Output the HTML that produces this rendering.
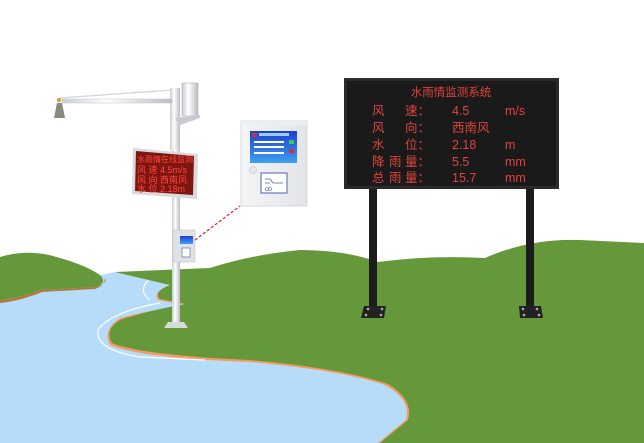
<!DOCTYPE html>
<html><head><meta charset="utf-8"><style>
html,body{margin:0;padding:0;background:#fff;}
svg{display:block;}
text{font-family:"Liberation Sans","Noto Sans CJK SC",sans-serif;}
</style></head><body>
<svg width="644" height="443" viewBox="0 0 644 443" xmlns="http://www.w3.org/2000/svg">
<defs>
<linearGradient id="pole" x1="0" x2="1"><stop offset="0" stop-color="#c8cbd0"/><stop offset="0.4" stop-color="#ffffff"/><stop offset="1" stop-color="#b8bcc2"/></linearGradient>
<linearGradient id="scr" x1="0" x2="0" y1="0" y2="1"><stop offset="0" stop-color="#1b3fd0"/><stop offset="1" stop-color="#3fa0f0"/></linearGradient>
<linearGradient id="cab" x1="0" x2="1"><stop offset="0" stop-color="#f4f5f7"/><stop offset="1" stop-color="#e2e4e8"/></linearGradient>
</defs>
<!-- river -->
<path d="M0,295 L115,272 L175,284 L250,300 L330,330 L400,380 L420,443 L0,443 Z" fill="#b6dcfa"/>
<!-- left hill -->
<path d="M0,257 Q30,248 60,258 Q85,265 100,275 Q108,283 95,287 L40,290 Q20,298 0,300 Z" fill="#65983a"/>
<path d="M0,300 Q20,298 40,290 L95,287 Q108,283 105,278 Q104,286 95,289 L42,292 Q20,301 0,303 Z" fill="#b07a3a"/>
<!-- main green orange rim -->
<path d="M115,272 L170,285 Q152,292 158,300 L186,305 Q150,310 120,318 Q102,330 110,345 Q140,358 250,362 Q340,370 385,385 Q412,400 406,420 L378,443 L382,443 L410,420 Q415,398 388,382 Q340,366 250,358 Q140,353 112,342 Q106,330 122,321 Q152,312 190,303 L160,297 Q156,292 172,285 Z" fill="#f79a5f"/>
<!-- main green -->
<path d="M115,272 L210,268 Q250,255 300,250 Q345,250 378,262 Q430,255 485,258 Q530,238 580,240 L644,243 L644,443 L380,443 L408,420 Q414,400 388,384 Q340,368 250,360 Q140,355 112,343 Q104,330 120,320 Q150,310 186,304 L160,299 Q153,292 170,285 Z" fill="#65983a"/>
<!-- white river lines -->
<path d="M150,300 Q138,292 148,280 M160,303 Q110,312 98,330 Q95,350 140,357 L205,360" fill="none" stroke="#fff" stroke-width="1.2"/>

<!-- big sign legs -->
<rect x="369" y="186" width="8" height="122" fill="#1c1c1c"/>
<rect x="526" y="186" width="8" height="122" fill="#1c1c1c"/>
<polygon points="364,306 386,306 384,318 361,318" fill="#222"/>
<polygon points="519,306 541,306 543,318 520,318" fill="#222"/>
<circle cx="368" cy="309" r="1.3" fill="#aaa"/><circle cx="382" cy="309" r="1.3" fill="#aaa"/><circle cx="366" cy="315" r="1.3" fill="#aaa"/><circle cx="381" cy="315" r="1.3" fill="#aaa"/>
<circle cx="523" cy="309" r="1.3" fill="#aaa"/><circle cx="537" cy="309" r="1.3" fill="#aaa"/><circle cx="524" cy="315" r="1.3" fill="#aaa"/><circle cx="539" cy="315" r="1.3" fill="#aaa"/>
<!-- big sign -->
<rect x="344" y="78" width="215" height="111" fill="#2a2a2a"/>
<rect x="347" y="81" width="209" height="105" fill="#1a1a1a"/>
<g fill="#e0443c" font-size="12.5">
<text x="451" y="96" text-anchor="middle" font-size="11.5">水雨情监测系统</text>
<text x="372" y="115">风</text><text x="405" y="115">速：</text><text x="452" y="115">4.5</text><text x="505" y="115">m/s</text>
<text x="372" y="132">风</text><text x="405" y="132">向：</text><text x="452" y="132">西南风</text>
<text x="372" y="149">水</text><text x="405" y="149">位：</text><text x="452" y="149">2.18</text><text x="505" y="149">m</text>
<text x="372" y="166">降</text><text x="389" y="166">雨</text><text x="405" y="166">量：</text><text x="452" y="166">5.5</text><text x="505" y="166">mm</text>
<text x="372" y="182">总</text><text x="389" y="182">雨</text><text x="405" y="182">量：</text><text x="452" y="182">15.7</text><text x="505" y="182">mm</text>
</g>

<!-- pole -->
<rect x="170" y="88" width="10" height="62" fill="url(#pole)"/>
<rect x="172" y="150" width="8" height="172" fill="url(#pole)"/>
<polygon points="168,322 184,322 188,328 164,328" fill="#d7d9dc"/>
<!-- arm -->
<line x1="60" y1="98" x2="172" y2="90" stroke="#d0d3d8" stroke-width="1.2"/>
<rect x="62" y="99" width="110" height="4" fill="url(#pole)" stroke="#c3c6cb" stroke-width="0.5"/>
<polygon points="57,103 62,103 65,118 54,118" fill="#8a8a80"/>
<circle cx="59" cy="100" r="2" fill="#d9a020"/>
<!-- rain gauge -->
<rect x="182" y="83" width="16" height="33" fill="url(#pole)" stroke="#aaa" stroke-width="0.5"/>
<polygon points="175,118 200,115 200,118 180,125" fill="#c6c9ce"/>
<!-- small LED -->
<polygon points="133,148 198,154 197,199 132,194" fill="#d9dadc"/>
<polygon points="136,151 194,156 193,195 135,191" fill="#7e1510"/>
<g fill="#ff4a3a" font-size="9">
<text x="137" y="162" font-size="8">水雨情在线监测</text>
<text x="137" y="173">风 速 4.5m/s</text>
<text x="137" y="183">风 向 西南风</text>
<text x="137" y="192">水 位 2.18m</text>
</g>
<!-- small box -->
<rect x="173" y="230" width="22" height="32" fill="#dfe1e5" stroke="#bbb" stroke-width="0.5"/>
<rect x="180" y="236" width="13" height="8" fill="url(#scr)"/>
<rect x="182" y="248" width="8" height="9" fill="#fff" stroke="#4060b0" stroke-width="0.6"/>
<!-- dashed -->
<line x1="195" y1="240" x2="240" y2="206" stroke="#e02020" stroke-width="1.2" stroke-dasharray="3,2"/>
<!-- cabinet -->
<rect x="241" y="121" width="66" height="85" fill="url(#cab)" stroke="#d0d2d6" stroke-width="0.8"/>
<rect x="241" y="121" width="66" height="4" fill="#eceef0"/>
<rect x="250" y="131" width="47" height="32" fill="url(#scr)"/>
<rect x="252" y="133" width="5" height="4" fill="#c33"/>
<rect x="259" y="133" width="30" height="3" fill="#9cf"/>
<rect x="254" y="141" width="30" height="2" fill="#fff"/><rect x="254" y="146" width="30" height="2" fill="#fff"/><rect x="254" y="152" width="30" height="2" fill="#fff"/>
<rect x="289" y="140" width="5" height="4" fill="#3c6"/><rect x="289" y="149" width="5" height="4" fill="#c33"/>
<circle cx="253" cy="170" r="3.5" fill="#e8e8e8" stroke="#bbb" stroke-width="0.6"/>
<rect x="261" y="173" width="26" height="20" fill="#fff" stroke="#4a62b0" stroke-width="1"/>
<path d="M265,179 L270,179 L273,183 L283,183 M265,183 L270,183" stroke="#4a62b0" fill="none" stroke-width="0.8"/>
<circle cx="267" cy="189" r="1.5" fill="none" stroke="#4a62b0" stroke-width="0.6"/><circle cx="270" cy="189" r="1.5" fill="none" stroke="#4a62b0" stroke-width="0.6"/>
</svg>
</body></html>
